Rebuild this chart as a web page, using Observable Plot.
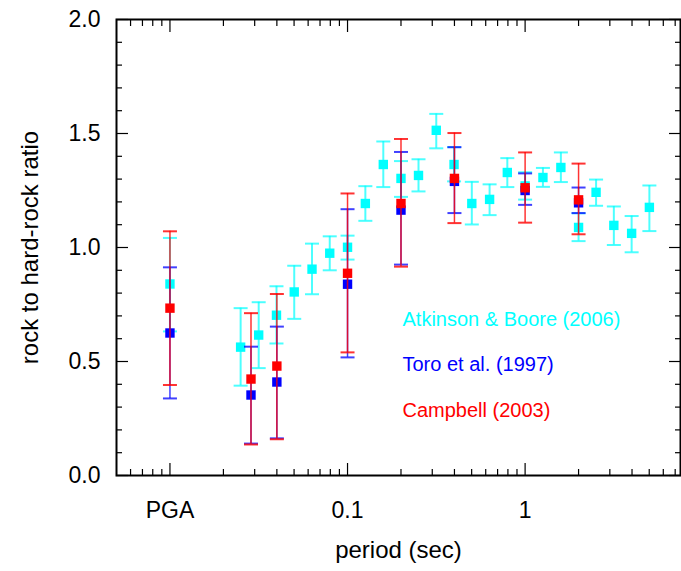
<!DOCTYPE html>
<html>
<head>
<meta charset="utf-8">
<script src="https://cdn.jsdelivr.net/npm/d3@7"></script>
<script src="https://cdn.jsdelivr.net/npm/@observablehq/plot@0.6"></script>
<style>
  html, body { margin: 0; padding: 0; background: #fff; }
  #chart { width: 681px; height: 571px; }
</style>
</head>
<body>
<div id="chart"></div>
<script>
// ---- Data ----
// Atkinson & Boore (2006)
const periodsAB = [0.01, 0.025, 0.0316, 0.0398, 0.0501, 0.0631, 0.0794, 0.1, 0.126, 0.159, 0.2, 0.251, 0.316, 0.398, 0.501, 0.631, 0.794, 1.0, 1.26, 1.59, 2.0, 2.51, 3.16, 3.98, 5.01];
const ratioAB  = [0.84, 0.563, 0.616, 0.703, 0.805, 0.905, 0.975, 1.001, 1.193, 1.364, 1.303, 1.316, 1.514, 1.364, 1.193, 1.211, 1.329, 1.27, 1.307, 1.351, 1.088, 1.242, 1.097, 1.062, 1.176];
const lowAB    = [0.632, 0.394, 0.471, 0.579, 0.687, 0.795, 0.900, 0.947, 1.117, 1.265, 1.222, 1.246, 1.435, 1.290, 1.101, 1.142, 1.265, 1.21, 1.266, 1.287, 1.028, 1.183, 1.011, 0.979, 1.072];
const highAB   = [1.042, 0.734, 0.760, 0.830, 0.920, 1.017, 1.049, 1.052, 1.269, 1.465, 1.379, 1.387, 1.586, 1.44, 1.288, 1.277, 1.392, 1.33, 1.349, 1.417, 1.15, 1.298, 1.180, 1.138, 1.272];

// Toro et al. (1997)
const periodsToro = [0.01, 0.0286, 0.04, 0.1, 0.2, 0.4, 1.0, 2.0];
const ratioToro   = [0.625, 0.353, 0.410, 0.839, 1.164, 1.29, 1.25, 1.196];
const lowToro     = [0.338, 0.140, 0.163, 0.518, 0.925, 1.151, 1.187, 1.151];
const highToro    = [0.913, 0.565, 0.653, 1.168, 1.419, 1.440, 1.325, 1.263];

// Campbell (2003)
const periodsCampbell = [0.01, 0.0286, 0.04, 0.1, 0.2, 0.4, 1.0, 2.0];
const ratioCampbell   = [0.734, 0.423, 0.480, 0.887, 1.193, 1.303, 1.262, 1.209];
const lowCampbell     = [0.397, 0.136, 0.159, 0.540, 0.916, 1.107, 1.109, 1.058];
const highCampbell    = [1.071, 0.712, 0.796, 1.237, 1.476, 1.502, 1.417, 1.368];

// Axis ticks and labels
const xMajorTicks = [0.01, 0.1, 1];
const xTickLabels = ["PGA", "0.1", "1"];
const xMinorTicks = [0.006, 0.007, 0.008, 0.009, 0.02, 0.03, 0.04, 0.05, 0.06, 0.07, 0.08, 0.09,
                     0.2, 0.3, 0.4, 0.5, 0.6, 0.7, 0.8, 0.9, 2, 3, 4, 5, 6, 7];
const yMajorTicks = [0, 0.5, 1.0, 1.5, 2.0];
const yMinorTicks = [0.1, 0.2, 0.3, 0.4, 0.6, 0.7, 0.8, 0.9, 1.1, 1.2, 1.3, 1.4, 1.6, 1.7, 1.8, 1.9];

const seriesNames  = ["Atkinson & Boore (2006)", "Toro et al. (1997)", "Campbell (2003)"];
const seriesColors = ["#00ffff", "#0000ff", "#ff0000"];

// ---- Build tables ----
const mk = (p, r, lo, hi) => p.map((d, i) => ({period: d, ratio: r[i], low: lo[i], high: hi[i]}));
const ab = mk(periodsAB, ratioAB, lowAB, highAB);
const toro = mk(periodsToro, ratioToro, lowToro, highToro);
const campbell = mk(periodsCampbell, ratioCampbell, lowCampbell, highCampbell);

const capSymbol = {
  draw(context) { context.moveTo(-7, 0); context.lineTo(7, 0); }
};

function seriesMarks(data, color, barOpacity, barWidth) {
  return [
    Plot.ruleX(data, {x: "period", y1: "low", y2: "high", stroke: color, strokeWidth: barWidth, strokeOpacity: barOpacity}),
    Plot.dot(data, {x: "period", y: "low", symbol: capSymbol, fill: "none", stroke: color, strokeWidth: 2, strokeOpacity: barOpacity}),
    Plot.dot(data, {x: "period", y: "high", symbol: capSymbol, fill: "none", stroke: color, strokeWidth: 2, strokeOpacity: barOpacity}),
    Plot.dot(data, {x: "period", y: "ratio", symbol: "square", r: 5.3, fill: color, stroke: "none"})
  ];
}

const labelFmt = d => xTickLabels[xMajorTicks.indexOf(d)];

const chart = Plot.plot({
  width: 681,
  height: 571,
  marginLeft: 116,
  marginRight: 1,
  marginTop: 19,
  marginBottom: 96,
  style: {fontFamily: "'Liberation Sans', Arial, sans-serif", fontSize: "23px", color: "black", background: "white", overflow: "visible"},
  x: {type: "log", domain: [0.005, 7.5]},
  y: {domain: [0, 2]},
  marks: [
    // ticks (inward)
    Plot.axisX(xMajorTicks, {anchor: "bottom", tickSize: -12, fill: "none", strokeWidth: 1.2, label: null}),
    Plot.axisX(xMinorTicks, {anchor: "bottom", tickSize: -6, fill: "none", strokeWidth: 1.2, label: null}),
    Plot.axisX(xMajorTicks, {anchor: "top", tickSize: -12, fill: "none", strokeWidth: 1.2, label: null}),
    Plot.axisX(xMinorTicks, {anchor: "top", tickSize: -6, fill: "none", strokeWidth: 1.2, label: null}),
    Plot.axisY(yMajorTicks, {anchor: "left", tickSize: -12, fill: "none", strokeWidth: 1.2, label: null}),
    Plot.axisY(yMinorTicks, {anchor: "left", tickSize: -6, fill: "none", strokeWidth: 1.2, label: null}),
    Plot.axisY(yMajorTicks, {anchor: "right", tickSize: -12, fill: "none", strokeWidth: 1.2, label: null}),
    Plot.axisY(yMinorTicks, {anchor: "right", tickSize: -6, fill: "none", strokeWidth: 1.2, label: null}),
    // tick labels
    Plot.axisX(xMajorTicks, {anchor: "bottom", tickSize: 0, tickPadding: 26, tickFormat: labelFmt, label: null}),
    Plot.axisY(yMajorTicks, {anchor: "left", tickSize: 0, tickPadding: 16, tickFormat: d => d.toFixed(1), label: null}),
    // axis titles
    Plot.text(["period (sec)"], {frameAnchor: "bottom", lineAnchor: "middle", textAnchor: "middle", dy: 75, text: d => d, fontSize: 24}),
    Plot.text(["rock to hard-rock ratio"], {frameAnchor: "left", lineAnchor: "middle", textAnchor: "middle", dx: -86, rotate: -90, text: d => d, fontSize: 24}),
    // data
    ...seriesMarks(ab, seriesColors[0], 0.7, 2),
    ...seriesMarks(toro, seriesColors[1], 0.75, 1.5),
    ...seriesMarks(campbell, seriesColors[2], 0.8, 1.5),
    // legend
    ...seriesNames.map((name, i) => Plot.text([name], {frameAnchor: "top-left", textAnchor: "start", lineAnchor: "middle", dx: 286, dy: 300 + 45.5 * i, text: d => d, fill: seriesColors[i], fontSize: 20})),
    // frame
    Plot.frame({stroke: "black", strokeWidth: 2})
  ]
});
document.getElementById("chart").appendChild(chart);
</script>
</body>
</html>
